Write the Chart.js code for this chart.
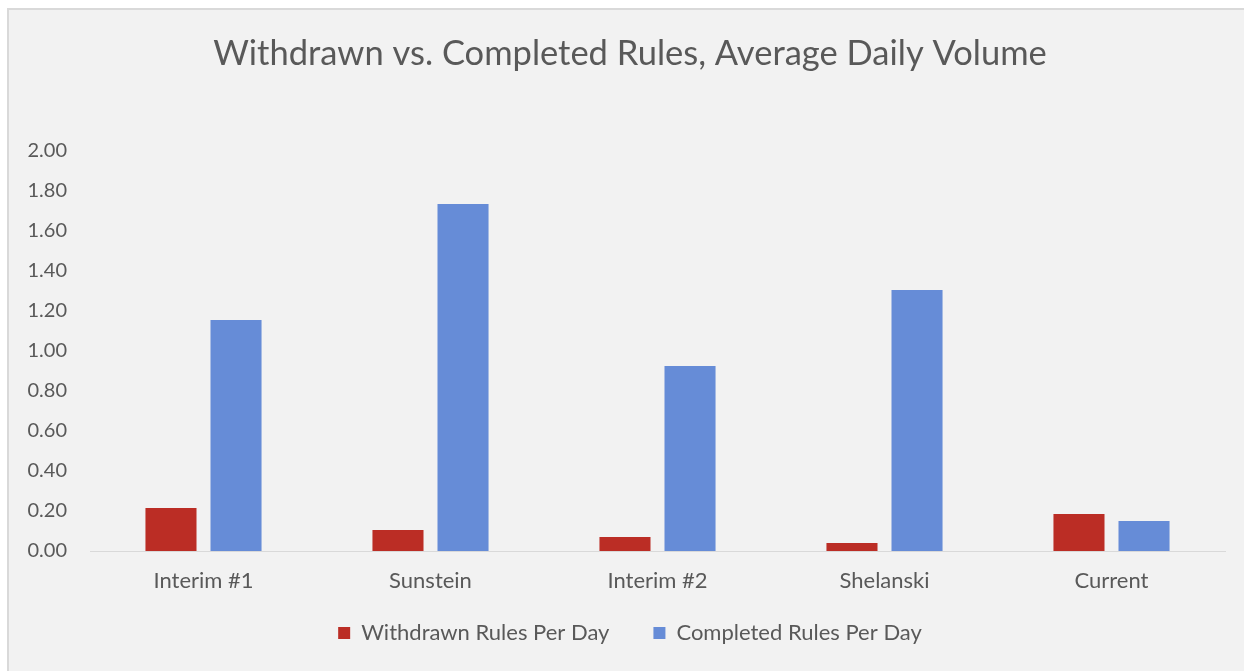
<!DOCTYPE html>
<html>
<head>
<meta charset="utf-8">
<script src="https://cdn.jsdelivr.net/npm/chart.js@4.4.0/dist/chart.umd.min.js"></script>
<style>
    html, body { margin: 0; padding: 0; background: #fff; overflow: hidden; }
    .panel {
        position: absolute; left: 7px; top: 8px; width: 1250px; height: 680px;
        background: #f2f2f2; border-left: 2px solid #d9d9d9; border-top: 2px solid #d9d9d9;
    }
    #wrap { position: absolute; left: 0; top: 0; width: 1244px; height: 675px; }
</style>
</head>
<body>
<div class="panel"></div>
<div id="wrap"><canvas id="rulesChart"></canvas></div>
<script>
// values
const periods = ['Interim #1', 'Sunstein', 'Interim #2', 'Shelanski', 'Current'];
const withdrawnPerDay = [0.215, 0.105, 0.07, 0.04, 0.185];
const completedPerDay = [1.155, 1.735, 0.925, 1.305, 0.15];
const yTicks = [0, 0.2, 0.4, 0.6, 0.8, 1.0, 1.2, 1.4, 1.6, 1.8, 2.0];

const textGray = '#595959';
const fontFamily = 'Lato, "Open Sans", sans-serif';

// fixed axis sizes; labels may spill out of the axis box, so no clipping
function fixSize(prop, size) {
    return (scale) => {
        scale[prop] = size;
        scale._computeLabelArea = () => undefined;
    };
}

document.addEventListener('DOMContentLoaded', () => {
    const ctx = document.getElementById('rulesChart').getContext('2d');

    new Chart(ctx, {
        type: 'bar',
        data: {
            labels: periods,
            datasets: [{
                label: 'Withdrawn Rules Per Day',
                data: withdrawnPerDay,
                backgroundColor: '#bb2d25'
            }, {
                label: 'Completed Rules Per Day',
                data: completedPerDay,
                backgroundColor: '#668cd7'
            }]
        },
        options: {
            responsive: true,
            maintainAspectRatio: false,
            animation: false,
            categoryPercentage: 0.573,
            barPercentage: 0.785,
            layout: {
                padding: { left: 35, right: 19, top: 0, bottom: 21 }
            },
            scales: {
                y: {
                    min: 0,
                    max: 2,
                    afterBuildTicks: (scale) => {
                        scale.ticks = yTicks.map(v => ({ value: v }));
                    },
                    afterFit: fixSize('width', 55),
                    ticks: {
                        color: textGray,
                        padding: 23,
                        font: { family: fontFamily, size: 20 },
                        callback: (v) => Number(v).toFixed(2)
                    },
                    grid: { display: false, drawTicks: false },
                    border: { display: false }
                },
                x: {
                    afterFit: fixSize('height', 27),
                    ticks: {
                        color: textGray,
                        padding: 16.8,
                        font: { family: fontFamily, size: 22 }
                    },
                    grid: { display: false, drawTicks: false },
                    border: { display: true, color: '#d9d9d9', width: 1 }
                }
            },
            plugins: {
                title: {
                    display: true,
                    text: 'Withdrawn vs. Completed Rules, Average Daily Volume',
                    color: textGray,
                    font: { family: fontFamily, size: 34.5, weight: 'normal' },
                    padding: { top: 33, bottom: 76.6 }
                },
                legend: {
                    position: 'bottom',
                    labels: {
                        color: textGray,
                        boxWidth: 12,
                        boxHeight: 12,
                        padding: 44,
                        font: { family: fontFamily, size: 22 }
                    }
                },
                tooltip: { enabled: false }
            }
        }
    });
});
</script>
</body>
</html>
